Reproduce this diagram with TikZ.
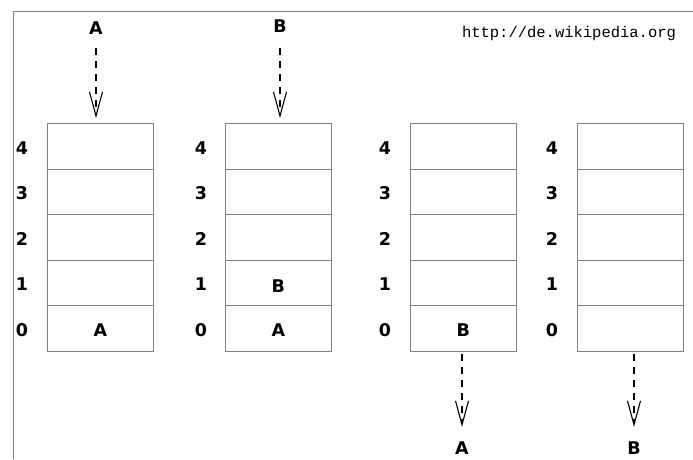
\documentclass[tikz,border=0pt]{standalone}
\usepackage{fontspec}
\setmainfont{DejaVu Sans}
\newfontfamily\urlfont{Liberation Mono}
\usetikzlibrary{arrows.meta}
\begin{document}
\begin{tikzpicture}[x=1pt,y=-1pt,
  cell/.style={draw=black!50, line width=0.8pt, minimum width=106pt, minimum height=45.5pt, inner sep=0pt, anchor=north west},
  lbl/.style={inner sep=0pt, font=\bfseries\fontsize{17.5}{17.5}\selectfont},
  dasharrow/.style={black, line width=1.7pt, dash pattern=on 7pt off 6pt, -{Straight Barb[length=24pt,width=13pt,line width=1.1pt]}},
  frame/.style={draw=black!50, line width=0.8pt}]
\useasboundingbox (0,0) rectangle (693,459);
\fill[white] (0,0) rectangle (693,459);
\draw[frame] (13.5,459) -- (13.5,11.5) -- (693,11.5);
\node[anchor=base, inner sep=0pt, font=\urlfont\fontsize{15.5}{15.5}\selectfont] (url) at (569,37) {http://de.wikipedia.org};
\foreach \c/\x/\lx in {1/47/22, 2/225/201, 3/410/385, 4/577/552}{
  \foreach \r in {0,...,4}{
    \pgfmathsetmacro{\ty}{123+(4-\r)*45.5}
    \node[cell] (c\c r\r) at (\x,\ty) {};
    \node[lbl] (l\c r\r) at ([yshift=-2pt]\lx,\ty+22.75) {\r};
  }
}
\node[lbl] (t1) at ([yshift=-2pt]c1r0.center) {A};
\node[lbl] (t2) at ([yshift=-3pt]c2r1.center) {B};
\node[lbl] (t3) at ([yshift=-2pt]c2r0.center) {A};
\node[lbl] (t4) at ([yshift=-2pt]c3r0.center) {B};
\node[lbl] (inA) at (96,28) {A};
\node[lbl] (inB) at (280,26) {B};
\node[lbl] (outA) at (462,448.5) {A};
\node[lbl] (outB) at (634,448.5) {B};
\draw[dasharrow, shorten <=13.5pt, shorten >=5pt] (inA.south) -- (inA.south |- c1r4.north);
\draw[dasharrow, shorten <=15.5pt, shorten >=5pt] (inB.south) -- (inB.south |- c2r4.north);
\draw[dasharrow, shorten <=2.5pt, shorten >=15pt] (outA.north |- c3r0.south) -- (outA.north);
\draw[dasharrow, shorten <=2.5pt, shorten >=15pt] (outB.north |- c4r0.south) -- (outB.north);
\end{tikzpicture}
\end{document}
